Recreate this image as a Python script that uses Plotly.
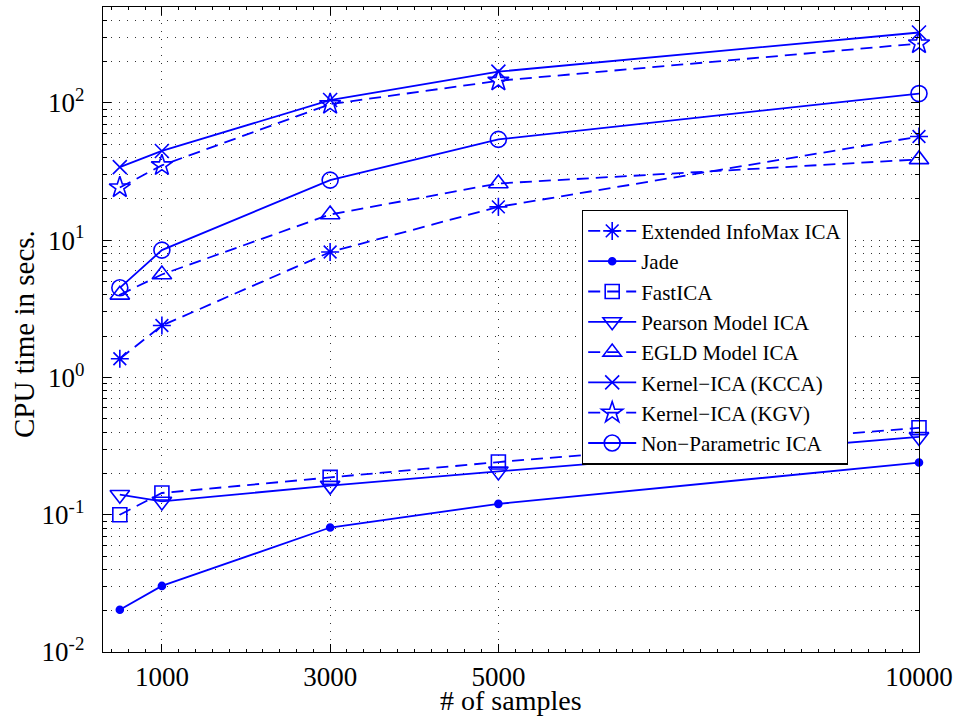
import plotly.graph_objects as go

samples = [500, 1000, 3000, 5000, 10000]

infomax = [1.37, 2.39, 8.2, 17.5, 56.9]
jade = [0.0203, 0.0303, 0.0807, 0.120, 0.240]
fastica = [0.100, 0.144, 0.187, 0.242, 0.43]
pearson = [0.140, 0.125, 0.163, 0.207, 0.369]
egld = [4.0, 5.63, 15.4, 25.9, 38.8]
kcca = [34.1, 44.7, 105, 169, 326]
kgv = [24.2, 35.1, 98, 145, 271]
nonparam = [4.5, 8.47, 27.4, 54.3, 117]

names = ["Extended InfoMax ICA", "Jade", "FastICA", "Pearson Model ICA",
         "EGLD Model ICA", "Kernel\u2212ICA (KCCA)", "Kernel\u2212ICA (KGV)",
         "Non\u2212Parametric ICA"]
series = [infomax, jade, fastica, pearson, egld, kcca, kgv, nonparam]
symbols = ["asterisk-open", "circle", "square-open", "triangle-down-open",
           "triangle-up-open", "x-thin-open", "star-open", "circle-open"]
sizes = [15, 7, 14, 17, 17, 14, 16, 16]
dashes = ["12px,7px", "solid", "12px,7px", "solid", "12px,7px", "solid", "12px,7px", "solid"]

xticks = [1000, 3000, 5000, 10000]
yticks = [0.01, 0.1, 1, 10, 100]
yticktext = ["10<sup>-2</sup>", "10<sup>-1</sup>", "10<sup>0</sup>", "10<sup>1</sup>", "10<sup>2</sup>"]

BLUE = "#0000FF"
GRID = "#333333"
GRIDDASH = "1px,7px"
fig = go.Figure()
for name, ys, sym, sz, dash in zip(names, series, symbols, sizes, dashes):
    fig.add_trace(go.Scatter(
        x=samples, y=ys, name=name, mode="lines+markers",
        line=dict(color=BLUE, width=1.8, dash=dash),
        marker=dict(symbol=sym, size=sz, color=BLUE,
                    line=dict(color=BLUE, width=1.6)),
        cliponaxis=False,
    ))

font_family = "Liberation Serif"
fig.update_layout(
    width=959, height=719,
    margin=dict(l=103, r=40, t=7, b=67, autoexpand=False),
    paper_bgcolor="white", plot_bgcolor="white",
    font=dict(family=font_family, size=27, color="black"),
    showlegend=True,
    legend=dict(x=0.587, y=0.686, xanchor="left", yanchor="top",
                bgcolor="white", bordercolor="black", borderwidth=1.2,
                font=dict(family=font_family, size=21, color="black"),
                tracegroupgap=0, itemwidth=48),
    xaxis=dict(
        range=[300, 10000], tickvals=xticks, ticktext=[str(v) for v in xticks],
        showline=True, linecolor="black", linewidth=1.2, mirror="ticks",
        ticks="inside", ticklen=8, tickcolor="black",
        showgrid=True, gridcolor=GRID, griddash=GRIDDASH, gridwidth=1,
        zeroline=False,
        minor=dict(ticks="inside", ticklen=3, dtick=200, tickcolor="black", showgrid=False),
        tickfont=dict(size=27),
    ),
    yaxis=dict(
        type="log", range=[-2, 2.699],
        tickvals=yticks, ticktext=[t + "\u00a0\u2009" for t in yticktext],
        showline=True, linecolor="black", linewidth=1.2, mirror="ticks",
        ticks="inside", ticklen=8, tickcolor="black",
        showgrid=True, gridcolor=GRID, griddash=GRIDDASH, gridwidth=1,
        zeroline=False,
        minor=dict(ticks="inside", ticklen=4, dtick="D1", tickcolor="black",
                   showgrid=True, gridcolor=GRID, griddash=GRIDDASH, gridwidth=1),
        tickfont=dict(size=27),
    ),
    annotations=[
        dict(text="CPU time in secs.", textangle=-90,
             xref="paper", yref="paper", x=-0.0968, y=0.493,
             xanchor="center", yanchor="middle", showarrow=False,
             font=dict(family=font_family, size=29, color="black")),
        dict(text="# of samples",
             xref="paper", yref="paper", x=0.5, y=-0.075,
             xanchor="center", yanchor="middle", showarrow=False,
             font=dict(family=font_family, size=28, color="black")),
    ],
)

fig.write_html("out.html")
